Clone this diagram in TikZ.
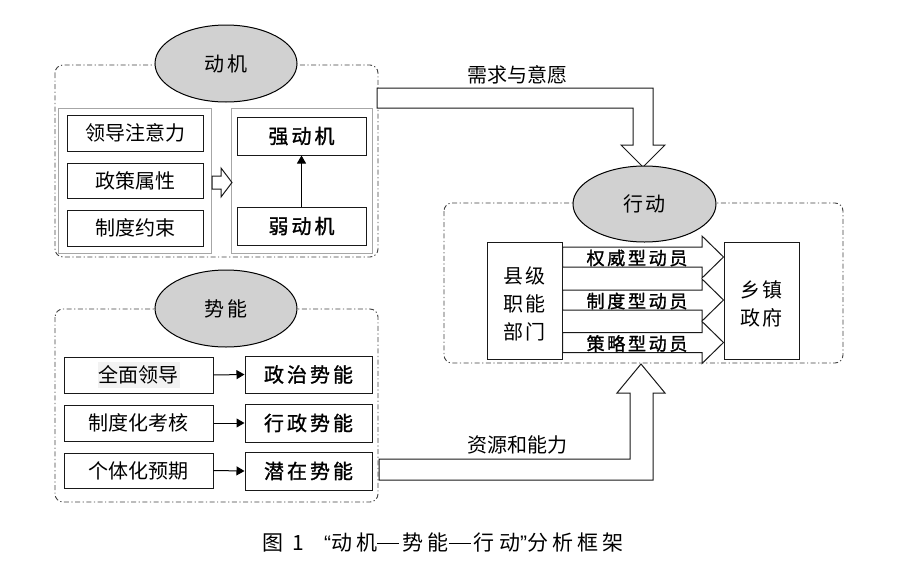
\documentclass[tikz,border=0pt]{standalone}
\usepackage{fontspec}
\setmainfont{Noto Sans CJK SC}
\newfontfamily\cjk{Noto Sans CJK SC}
\newfontfamily\cjkb[FakeBold=1.2,LetterSpace=15]{Noto Sans CJK SC}
\newfontfamily\cjks[LetterSpace=12]{Noto Sans CJK SC}
\newfontfamily\cjkcap[LetterSpace=20]{Noto Sans CJK SC}
\newfontfamily\capq{Liberation Sans}
\newcommand{\capdash}{\rule[0.33em]{1.05em}{0.07em}\hspace{0.15em}}
\usetikzlibrary{arrows.meta,shapes.geometric}
\tikzset{
  grp/.style={draw=black!75, line width=0.9pt, rounded corners=8pt,
    dash pattern=on 5pt off 2.5pt on 1.2pt off 2.5pt},
  inner/.style={draw=black!35, line width=0.7pt},
  box/.style={draw=black!90, line width=1pt, inner sep=0pt, fill=white},
  ell/.style={ellipse, draw=black, fill=black!18, line width=1pt, inner sep=0pt},
  hollow/.style={draw=black!90, fill=white, line width=1pt},
  lbl/.style={font=\fontsize{20}{24}\selectfont\cjk},
  elbl/.style={font=\fontsize{20}{24}\selectfont\cjks},
  blbl/.style={font=\fontsize{20}{24}\selectfont\cjkb},
  albl/.style={font=\fontsize{18}{22}\selectfont\cjkb, inner sep=0pt},
  tri/.style={-{Triangle[length=8pt,width=9pt]}, line width=1pt},
}
\begin{document}
\begin{tikzpicture}[x=1pt,y=-1pt]
\useasboundingbox (0,0) rectangle (898,568);

% ---------- group 1: motivation ----------
\draw[grp] (55,65) rectangle (378,257);
\draw[inner] (58,108) rectangle (211,253);
\draw[inner] (231,108) rectangle (372,253);
\node[ell, minimum width=142pt, minimum height=77pt, elbl] (e1) at (226,63.5) {动机};

\node[box, lbl, minimum width=136pt, minimum height=36pt] (m1) at (135,133) {领导注意力};
\node[box, lbl, minimum width=136pt, minimum height=35pt] (m2) at (135,180.5) {政策属性};
\node[box, lbl, minimum width=136pt, minimum height=36pt] (m3) at (135,228) {制度约束};

\node[box, blbl, minimum width=129pt, minimum height=38pt] (strong) at (301.5,136) {强动机};
\node[box, blbl, minimum width=129pt, minimum height=38pt] (weak) at (301.5,226) {弱动机};
\draw[tri] (weak.north) -- (strong.south);

\draw[hollow] (212,176) -- (221,176) -- (221,168) -- (232,182.5) -- (221,197) -- (221,189) -- (212,189) -- cycle;

% ---------- group 2: potential ----------
\draw[grp] (55,309) rectangle (378,502);
\node[ell, minimum width=142pt, minimum height=77pt, elbl] (e2) at (226,308.5) {势能};

\node[box, minimum width=149pt, minimum height=36pt] (p1) at (138.5,375) {};
\node[lbl, fill=black!5, inner sep=1pt, minimum height=26pt] at (p1) {全面领导};
\node[box, lbl, minimum width=149pt, minimum height=36pt] (p2) at (138.5,423) {制度化考核};
\node[box, lbl, minimum width=149pt, minimum height=35pt] (p3) at (138.5,470.5) {个体化预期};

\node[box, blbl, minimum width=127pt, minimum height=37pt] (q1) at (308.5,374.5) {政治势能};
\node[box, blbl, minimum width=127pt, minimum height=38pt] (q2) at (308.5,423) {行政势能};
\node[box, blbl, minimum width=127pt, minimum height=38pt] (q3) at (308.5,471) {潜在势能};

\draw[tri] (p1.east) -- (q1.west);
\draw[tri] (p2.east) -- (q2.west);
\draw[tri] (p3.east) -- (q3.west);

% ---------- group 3: action ----------
\draw[grp] (444,203) rectangle (843,363);

% big hollow arrows
\draw[hollow] (377,88) -- (653,88) -- (653,145) -- (665,145) -- (643,167) -- (621,145) -- (633,145) -- (633,108) -- (377,108) -- cycle;
\node[lbl] (need) at (517,75) {需求与意愿};

\draw[hollow] (379,459) -- (630,459) -- (630,393) -- (617,393) -- (641,364) -- (665,393) -- (653,393) -- (653,480) -- (379,480) -- cycle;
\node[lbl] (res) at (517,445) {资源和能力};

\node[ell, minimum width=143pt, minimum height=76pt, elbl] (e3) at (644.5,204) {行动};

\node[box, minimum width=75pt, minimum height=117pt] (county) at (524.5,300.5) {};
\node[font=\fontsize{20}{28}\selectfont\cjks, align=center] at ([yshift=-3pt]county.center) {县级\\职能\\部门};
\node[box, minimum width=75pt, minimum height=117pt] (town) at (761.5,300.5) {};
\node[font=\fontsize{20}{28}\selectfont\cjks, align=center] at ([yshift=-3pt]town.center) {乡镇\\政府};

\foreach \yy/\nm/\txt in {257/a1/权威型动员, 300/a2/制度型动员, 342.5/a3/策略型动员}{
  \draw[hollow] (county.east |- 0,\yy-10) -- (702,\yy-10) -- (702,\yy-21) -- (town.west |- 0,\yy) -- (702,\yy+21) -- (702,\yy+10) -- (county.east |- 0,\yy+10) -- cycle;
  \node[albl] (\nm) at (637,\yy+1) {\txt};
}

% ---------- caption ----------
\node[font=\fontsize{21}{24}\selectfont\cjk, anchor=west, inner sep=0pt] (cap1) at (262,543) {图\hspace{0.45em}1};
\node[font=\fontsize{21}{24}\selectfont\cjkcap, anchor=west, inner sep=0pt] (cap2) at (324,543)
  {{\capq “}动机\capdash 势能\capdash 行动{\capq ”}分析框架};
\end{tikzpicture}
\end{document}
